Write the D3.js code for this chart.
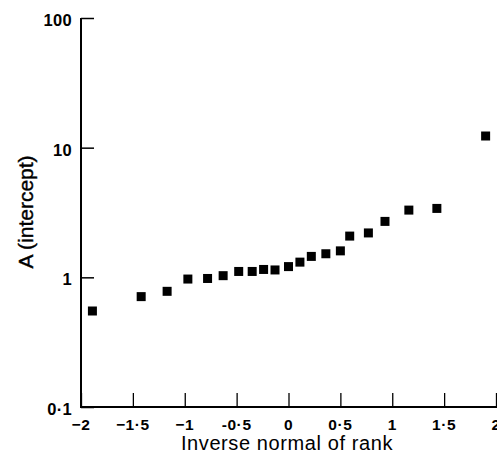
<!DOCTYPE html>
<html><head><meta charset="utf-8">
<script src="https://cdn.jsdelivr.net/npm/d3@7"></script>
<style>body{margin:0;background:#fff}svg{display:block}</style>
</head><body>
<svg id="c" width="497" height="459"></svg>
<script>
const xVals = [-1.89,-1.42,-1.17,-0.97,-0.78,-0.63,-0.48,-0.35,-0.24,-0.13,0.0,0.11,0.22,0.36,0.50,0.59,0.77,0.93,1.16,1.43,1.90];
const yVals = [0.55,0.71,0.78,0.97,0.98,1.03,1.11,1.11,1.15,1.14,1.21,1.31,1.45,1.52,1.60,2.08,2.20,2.70,3.30,3.40,12.3];
const xTicks = [-2,-1.5,-1,-0.5,0,0.5,1,1.5,2];
const xTickLabels = ["\u22122","\u22121\u00b75","\u22121","-0\u00b75","0","0\u00b75","1","1\u00b75","2"];
const yTicks = [0.1,1,10,100];
const yTickLabels = ["0\u00b71","1","10","100"];

const svg = d3.select("#c");
const x = d3.scaleLinear().domain([-2,2]).range([81,496]);
const y = d3.scaleLog().domain([0.1,100]).range([407,18]);
const font = "'Liberation Sans', Arial, sans-serif";

const gx = svg.append("g").attr("transform","translate(0,407)")
  .call(d3.axisTop(x).tickValues(xTicks).tickSize(14).tickFormat(""));
gx.select(".domain").attr("d","M81,0H497").attr("stroke","#000").attr("stroke-width",2);
gx.selectAll(".tick line").attr("stroke","#000").attr("stroke-width",1.3);

const gy = svg.append("g").attr("transform","translate(81,0)")
  .call(d3.axisRight(y).tickValues(yTicks).tickSize(13).tickFormat(""));
gy.select(".domain").attr("d","M0,18V408").attr("stroke","#000").attr("stroke-width",2);
gy.selectAll(".tick line").attr("stroke","#000").attr("stroke-width",1.5);

svg.append("g").selectAll("text").data(xTicks).join("text")
  .attr("x",(d,i)=>x(d)).attr("y",430).attr("text-anchor","middle")
  .attr("font-family",font).attr("font-size",15.5).attr("font-weight","bold")
  .attr("letter-spacing",0.6)
  .text((d,i)=>xTickLabels[i]);

svg.append("g").selectAll("text").data(yTicks).join("text")
  .attr("x",72).attr("y",d=>y(d)+8).attr("text-anchor","end")
  .attr("font-family",font).attr("font-size",16.5).attr("font-weight","bold")
  .attr("letter-spacing",0.3)
  .text((d,i)=>yTickLabels[i]);

svg.append("text").attr("x",287).attr("y",450).attr("text-anchor","middle")
  .attr("font-family",font).attr("font-size",20).attr("letter-spacing",0.6)
  .text("Inverse normal of rank");

svg.append("text").attr("transform","translate(33,212) rotate(-90)").attr("text-anchor","middle")
  .attr("font-family",font).attr("font-size",21).attr("stroke","#000").attr("stroke-width",0.4)
  .text("A (intercept)");

const s = 9;
svg.append("g").selectAll("rect").data(xVals).join("rect")
  .attr("x",(d,i)=>x(d)-s/2).attr("y",(d,i)=>y(yVals[i])-s/2)
  .attr("width",s).attr("height",s).attr("fill","#000");
</script>
</body></html>
